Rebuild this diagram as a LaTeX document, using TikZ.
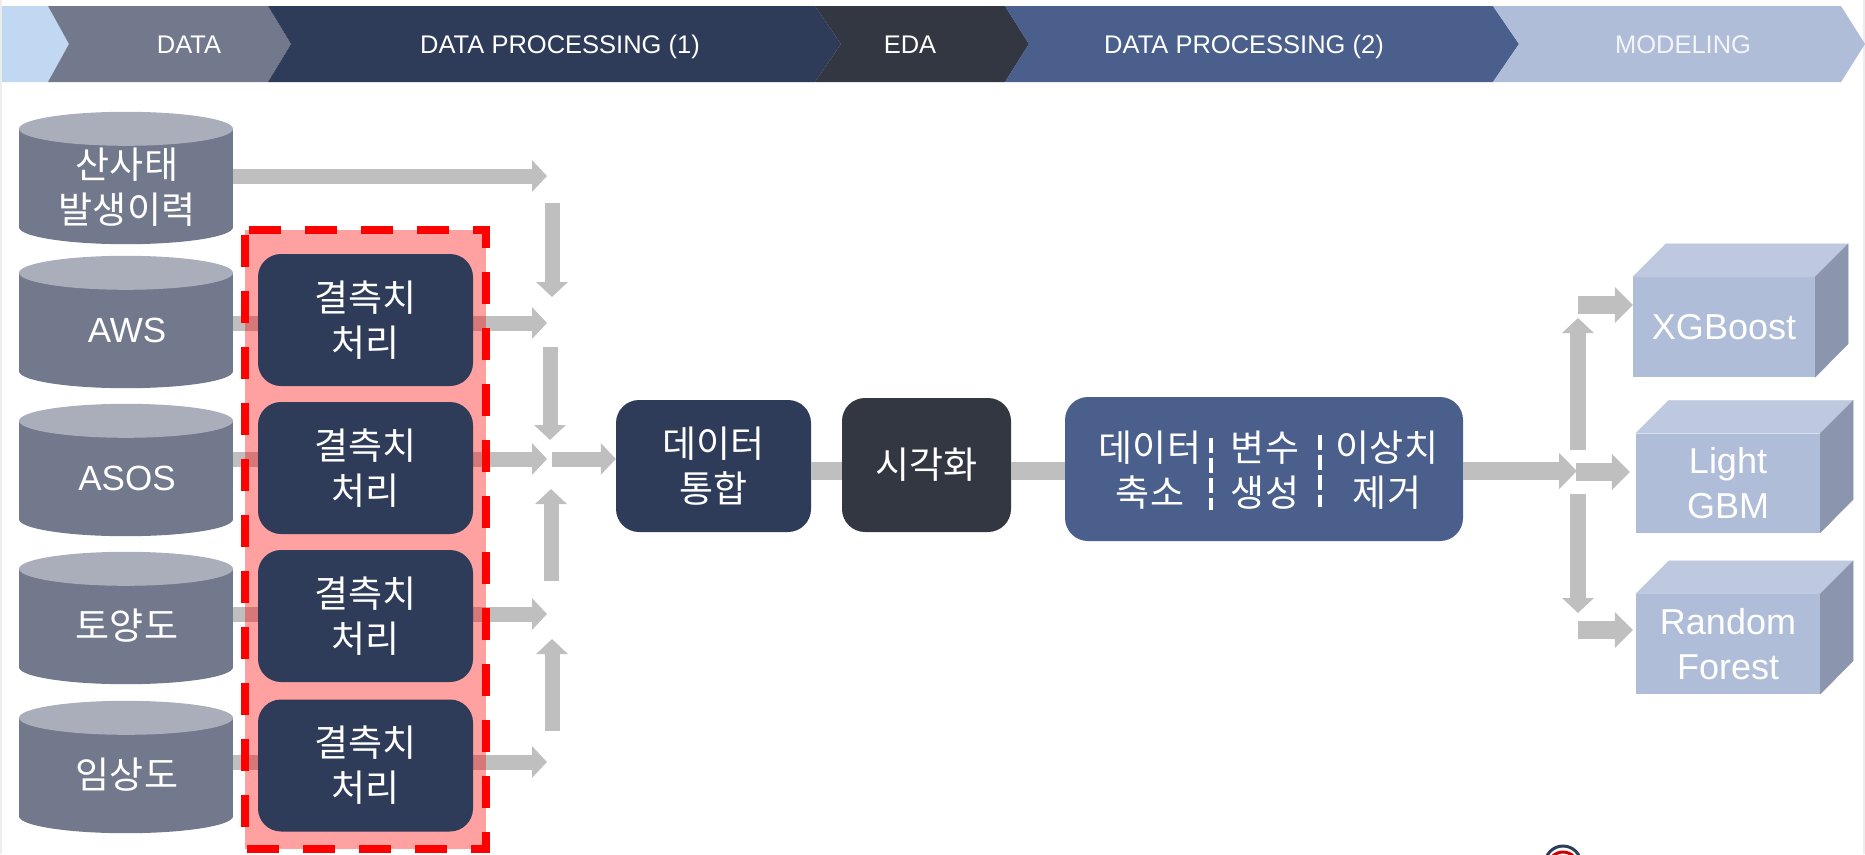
\documentclass[tikz,border=0pt]{standalone}
\usepackage{fontspec}
\usepackage{xcolor}
\usepackage{tikz}
\usetikzlibrary{arrows.meta}
\setmainfont{Liberation Sans}
\newfontfamily\kor{Noto Sans CJK KR}
\definecolor{skyback}{HTML}{C1D8F2}
\definecolor{databack}{HTML}{73798C}
\definecolor{navyback}{HTML}{2E3B59}
\definecolor{edaback}{HTML}{333742}
\definecolor{blueback}{HTML}{4A5F8C}
\definecolor{modelback}{HTML}{AFBDD8}
\definecolor{cubetop}{HTML}{BEC9E0}
\definecolor{cubeside}{HTML}{8B95AD}
\definecolor{dbtop}{HTML}{A9AEBA}
\definecolor{flowgray}{HTML}{BFBFBF}
\tikzset{
 headtext/.style={text=white, anchor=base, inner sep=0pt, font=\fontsize{25.5}{30}\selectfont},
 kortext/.style={text=white, align=center, inner sep=0pt, font=\kor\fontsize{37}{45}\selectfont},
 dbtext/.style={text=white, inner sep=0pt, font=\fontsize{35}{45}\selectfont},
 dbbody/.style={fill=databack, inner sep=0pt, minimum width=214pt, minimum height=98pt},
 dbend/.style={x radius=107pt, y radius=17pt},
 roundbox/.style={rounded corners=23pt, inner sep=0pt, kortext},
 missbox/.style={roundbox, fill=navyback, minimum width=215pt, minimum height=132pt},
 cubefront/.style={fill=modelback, inner sep=0pt, text=white, align=center,
  font=\fontsize{36}{45}\selectfont},
 topface/.style={fill=cubetop, draw=cubetop, line width=0.3pt},
 sideface/.style={fill=cubeside, draw=cubeside, line width=0.3pt},
 flowline/.style={draw=flowgray, line width=15pt},
 flowarrow/.style={flowline, -{Triangle[length=15pt, width=31pt]}},
 modelarrow/.style={draw=flowgray, line width=18pt, -{Triangle[length=18pt, width=35pt]}},
 reddash/.style={draw=red, line width=8.5pt, dash pattern=on 32pt off 24pt, dash phase=52pt},
 whitedash/.style={draw=white, line width=4pt, dash pattern=on 15pt off 5pt}
}
\begin{document}
\begin{tikzpicture}[x=1pt, y=-1pt]
 \useasboundingbox (0, 0) rectangle (1865, 854);
 \clip (0, 0) rectangle (1865, 854);
 \fill [black!7] (0, 0) rectangle (2, 854);
 \fill [black!7] (1863, 0) rectangle (1865, 854);
 % header
 \fill [skyback] (2, 6) -- (48, 6) -- (69, 44) -- (48, 82) -- (2, 82) -- cycle;
 \fill [databack] (48, 6) -- (268, 6) -- (291, 44) -- (268, 82) -- (48, 82) -- (69, 44) -- cycle;
 \fill [navyback] (268, 6) -- (815, 6) -- (841, 44) -- (815, 82) -- (268, 82) -- (291, 44) -- cycle;
 \fill [edaback] (815, 6) -- (1005, 6) -- (1029, 44) -- (1005, 82) -- (815, 82) -- (841, 44) -- cycle;
 \fill [blueback] (1005, 6) -- (1493, 6) -- (1519, 44) -- (1493, 82) -- (1005, 82) -- (1029, 44) -- cycle;
 \fill [modelback] (1493, 6) -- (1841, 6) -- (1865, 44) -- (1841, 82) -- (1493, 82) -- (1519, 44) -- cycle;
 \draw (189, 53) node[headtext] (hdata) {DATA};
 \draw (560, 53) node[headtext] (hproca) {DATA PROCESSING (1)};
 \draw (910, 53) node[headtext] (heda) {EDA};
 \draw (1244, 53) node[headtext] (hprocb) {DATA PROCESSING (2)};
 \draw (1683, 53) node[headtext, text=white!85!modelback] (hmodel) {MODELING};
 % sources
 \draw (126, 178) node[dbbody] (slide) {};
 \draw (126, 322) node[dbbody] (aws) {};
 \draw (126, 470) node[dbbody] (asos) {};
 \draw (126, 618) node[dbbody] (soil) {};
 \draw (126, 767) node[dbbody] (forest) {};
 \fill [databack] (slide.south) ellipse [dbend];
 \fill [dbtop] (slide.north) ellipse [dbend];
 \fill [databack] (aws.south) ellipse [dbend];
 \fill [dbtop] (aws.north) ellipse [dbend];
 \fill [databack] (asos.south) ellipse [dbend];
 \fill [dbtop] (asos.north) ellipse [dbend];
 \fill [databack] (soil.south) ellipse [dbend];
 \fill [dbtop] (soil.north) ellipse [dbend];
 \fill [databack] (forest.south) ellipse [dbend];
 \fill [dbtop] (forest.north) ellipse [dbend];
 \draw (127, 187) node[kortext] (tslide) {산사태\\발생이력};
 \draw (127, 330) node[dbtext] (taws) {AWS};
 \draw (127, 478) node[dbtext] (tasos) {ASOS};
 \draw (127, 626) node[kortext] (tsoil) {토양도};
 \draw (127, 775) node[kortext] (tforest) {임상도};
 % free ends
 \coordinate (slideend) at (547, 176);
 \coordinate (awsend) at (547, 323);
 \coordinate (asosend) at (547, 459);
 \coordinate (soilend) at (547, 614);
 \coordinate (forestend) at (547, 762);
 \coordinate (downa) at (552, 203);
 \coordinate (downaend) at (552, 297);
 \coordinate (downb) at (550, 347);
 \coordinate (downbend) at (550, 440);
 \coordinate (upa) at (551, 581);
 \coordinate (upaend) at (551, 489);
 \coordinate (upb) at (552, 731);
 \coordinate (upbend) at (552, 639);
 \coordinate (joinstart) at (552, 459);
 \coordinate (splitend) at (1577, 471);
 \coordinate (splita) at (1578, 450);
 \coordinate (splitaend) at (1578, 318);
 \coordinate (splitb) at (1578, 494);
 \coordinate (splitbend) at (1578, 613);
 \coordinate (xgbstart) at (1578, 305);
 \coordinate (lgbstart) at (1576, 472);
 \coordinate (rfstart) at (1578, 630);
 % arrows behind the red box
 \draw [flowarrow] (slide.east |- slideend) -- (slideend);
 \draw [flowarrow] (aws.east |- awsend) -- (awsend);
 \draw [flowarrow] (asos.east |- asosend) -- (asosend);
 \draw [flowarrow] (soil.east |- soilend) -- (soilend);
 \draw [flowarrow] (forest.east |- forestend) -- (forestend);
 \draw [flowarrow] (downa) -- (downaend);
 \draw [flowarrow] (downb) -- (downbend);
 \draw [flowarrow] (upa) -- (upaend);
 \draw [flowarrow] (upb) -- (upbend);
 % red box
 \draw (365.5, 539.5) node[fill=red, fill opacity=0.37, inner sep=0pt, minimum width=241pt, minimum height=619pt] (redbox) {};
 \draw [reddash] (redbox.north west) -- (redbox.north east) -- (redbox.south east) -- (redbox.south west) -- cycle;
 \draw (365.5, 320) node[missbox] (missa) {결측치\\처리};
 \draw (365.5, 468) node[missbox] (missb) {결측치\\처리};
 \draw (365.5, 616) node[missbox] (missc) {결측치\\처리};
 \draw (365.5, 765.5) node[missbox] (missd) {결측치\\처리};
 % middle
 \draw (713.5, 466) node[roundbox, fill=navyback, minimum width=195pt, minimum height=132pt] (merge) {데이터\\통합};
 \draw (926.5, 465) node[roundbox, fill=edaback, minimum width=169pt, minimum height=134pt] (plot) {시각화};
 \draw (1264, 469) node[roundbox, fill=blueback, minimum width=398pt, minimum height=144pt] (clean) {};
 \draw (1150, 470) node[kortext] (cleana) {데이터\\축소};
 \draw (1265, 470) node[kortext] (cleanb) {변수\\생성};
 \draw (1387, 470) node[kortext] (cleanc) {이상치\\제거};
 \coordinate (dasha) at (1211, 438);
 \coordinate (dashaend) at (1211, 510);
 \coordinate (dashb) at (1320, 435);
 \coordinate (dashbend) at (1320, 507);
 \draw [whitedash] (dasha) -- (dashaend);
 \draw [whitedash] (dashb) -- (dashbend);
 \draw [flowarrow] (joinstart) -- (merge.west |- joinstart);
 \draw [draw=flowgray, line width=18pt] (merge.east |- splitend) -- (plot.west |- splitend);
 \draw [draw=flowgray, line width=18pt] (plot.east |- splitend) -- (clean.west |- splitend);
 % models
 \draw (1724, 327) node[cubefront, minimum width=182pt, minimum height=100pt] (xgb) {XGBoost};
 \draw (1728, 483) node[cubefront, minimum width=184pt, minimum height=99pt] (lgb) {Light\\GBM};
 \draw (1728, 644) node[cubefront, minimum width=184pt, minimum height=100pt] (rf) {Random\\Forest};
 \fill [topface] (xgb.north west) -- ++(33, -33) -- ++(182, 0) -- (xgb.north east) -- cycle;
 \fill [sideface] (xgb.north east) -- ++(33, -33) -- ++(0, 100) -- (xgb.south east) -- cycle;
 \fill [topface] (lgb.north west) -- ++(33, -33) -- ++(184, 0) -- (lgb.north east) -- cycle;
 \fill [sideface] (lgb.north east) -- ++(33, -33) -- ++(0, 99) -- (lgb.south east) -- cycle;
 \fill [topface] (rf.north west) -- ++(33, -33) -- ++(184, 0) -- (rf.north east) -- cycle;
 \fill [sideface] (rf.north east) -- ++(33, -33) -- ++(0, 100) -- (rf.south east) -- cycle;
 \draw [modelarrow] (clean.east |- splitend) -- (splitend);
 \draw [flowarrow, line width=16pt] (splita) -- (splitaend);
 \draw [flowarrow, line width=16pt] (splitb) -- (splitbend);
 \draw [modelarrow] (xgbstart) -- (xgb.west |- xgbstart);
 \draw [modelarrow] (lgbstart) -- ([xshift=-6pt]lgb.west |- lgbstart);
 \draw [modelarrow] (rfstart) -- ([xshift=-3pt]rf.west |- rfstart);
 % logo
 \draw (1563, 864) node[circle, draw=navyback, line width=3pt, fill=white, minimum size=36pt, inner sep=0pt] (logo) {};
 \draw (1563, 867) node[circle, draw=red!80!black, line width=3pt, minimum size=30pt, inner sep=0pt] (logoin) {};
\end{tikzpicture}
\end{document}
